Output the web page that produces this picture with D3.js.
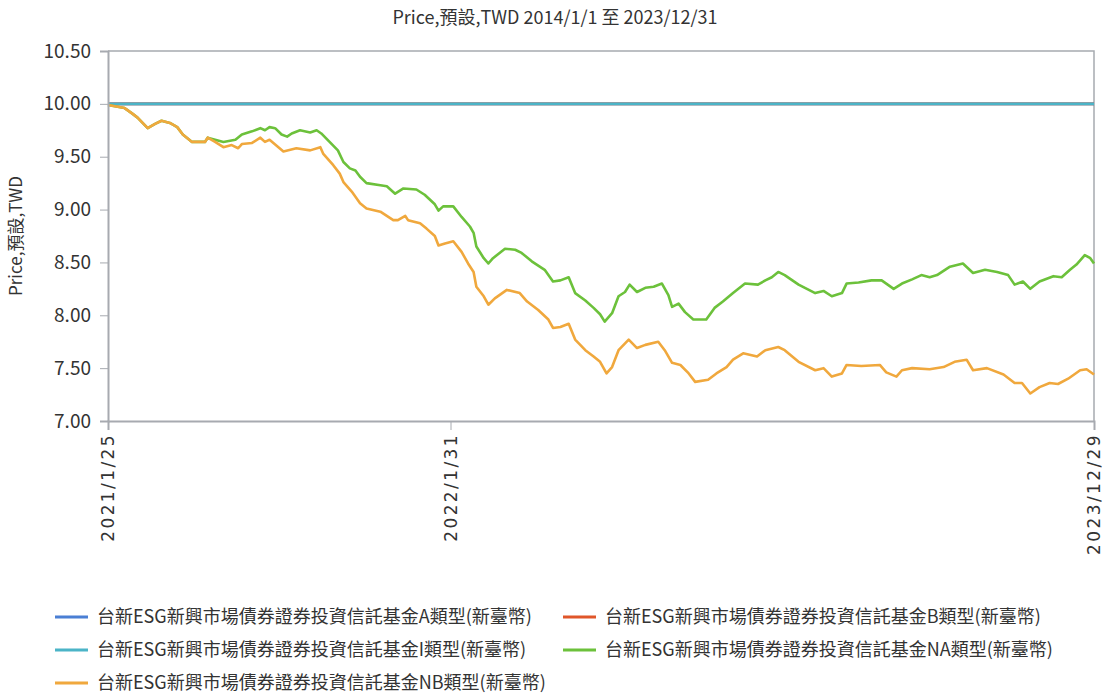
<!DOCTYPE html>
<html>
<head>
<meta charset="utf-8">
<script src="https://cdn.jsdelivr.net/npm/d3@7"></script>
<style>
  body { margin: 0; background: #fff; }
  text { font-family: "Noto Sans CJK TC", "Noto Sans", sans-serif; fill: #333; }
</style>
</head>
<body>
<div id="chart"></div>
<script>
// fund share classes, in drawing order
const seriesNames = [
  "台新ESG新興市場債券證券投資信託基金A類型(新臺幣)",
  "台新ESG新興市場債券證券投資信託基金B類型(新臺幣)",
  "台新ESG新興市場債券證券投資信託基金I類型(新臺幣)",
  "台新ESG新興市場債券證券投資信託基金NA類型(新臺幣)",
  "台新ESG新興市場債券證券投資信託基金NB類型(新臺幣)"
];
const seriesColors = ["#4a7fd4", "#e0562a", "#4bb4c7", "#6cc13b", "#f0a83d"];

// A, B and I stay flat at 10.00
const flatDates = ["2021-01-25", "2023-12-29"];
const aValues = [10.00, 10.00];
const bValues = [10.00, 10.00];
const iValues = [10.00, 10.00];

const naDates = ["2021-01-25","2021-02-12","2021-02-20","2021-02-26","2021-03-09","2021-03-17","2021-03-24","2021-04-02","2021-04-10","2021-04-16","2021-04-26","2021-05-10","2021-05-13",
  "2021-05-30","2021-06-12","2021-06-19","2021-06-30","2021-07-09","2021-07-14","2021-07-19","2021-07-25","2021-08-01","2021-08-07","2021-08-12","2021-08-21","2021-09-01","2021-09-08","2021-09-13","2021-09-22","2021-10-01","2021-10-07","2021-10-14","2021-10-20","2021-10-25","2021-11-01","2021-11-16","2021-11-23","2021-12-02","2021-12-11","2021-12-25",
  "2022-01-03","2022-01-14","2022-01-18","2022-01-23","2022-02-03","2022-02-12","2022-02-21","2022-02-25","2022-02-28","2022-03-08","2022-03-13","2022-03-18","2022-03-31","2022-04-11","2022-04-18","2022-04-29","2022-05-13","2022-05-22","2022-05-30","2022-06-08","2022-06-15","2022-06-26","2022-07-05","2022-07-12","2022-07-17","2022-07-25","2022-08-01","2022-08-08","2022-08-13","2022-08-21","2022-08-30","2022-09-08","2022-09-17","2022-09-24","2022-09-28","2022-10-05","2022-10-12","2022-10-21","2022-11-04","2022-11-13","2022-11-22","2022-12-03","2022-12-16","2022-12-30",
  "2023-01-07","2023-01-14","2023-01-21","2023-01-28","2023-02-12","2023-03-02","2023-03-11","2023-03-20","2023-03-31","2023-04-05","2023-04-18","2023-05-02","2023-05-13","2023-05-26","2023-06-04","2023-06-15","2023-06-25","2023-07-04","2023-07-12","2023-07-26","2023-08-09","2023-08-20","2023-09-02","2023-09-15","2023-09-27","2023-10-04","2023-10-13","2023-10-21","2023-10-31","2023-11-15","2023-11-24","2023-12-03","2023-12-10","2023-12-19","2023-12-25","2023-12-29"];
const naValues = [9.99,9.96,9.91,9.87,9.77,9.81,9.84,9.82,9.78,9.71,9.64,9.64,9.68,
  9.64,9.66,9.71,9.74,9.77,9.75,9.78,9.77,9.71,9.69,9.72,9.75,9.73,9.75,9.72,9.64,9.56,9.45,9.39,9.37,9.31,9.25,9.23,9.22,9.15,9.20,9.19,
  9.14,9.05,8.99,9.03,9.03,8.93,8.84,8.78,8.65,8.54,8.49,8.54,8.63,8.62,8.59,8.51,8.43,8.32,8.33,8.36,8.21,8.14,8.07,8.01,7.94,8.02,8.18,8.22,8.29,8.22,8.26,8.27,8.30,8.19,8.08,8.11,8.03,7.96,7.96,8.07,8.13,8.21,8.30,8.29,
  8.33,8.36,8.41,8.38,8.29,8.21,8.23,8.18,8.21,8.30,8.31,8.33,8.33,8.25,8.30,8.34,8.38,8.36,8.38,8.46,8.49,8.40,8.43,8.41,8.38,8.29,8.32,8.25,8.32,8.37,8.36,8.43,8.48,8.57,8.54,8.49];

const nbDates = ["2021-01-25","2021-02-12","2021-02-20","2021-02-26","2021-03-09","2021-03-17","2021-03-24","2021-04-02","2021-04-10","2021-04-16","2021-04-26","2021-05-10","2021-05-13","2021-05-21","2021-05-30","2021-06-08","2021-06-15","2021-06-19","2021-06-30","2021-07-09","2021-07-14","2021-07-19","2021-08-03","2021-08-17","2021-09-01","2021-09-12","2021-09-15","2021-09-26","2021-10-03","2021-10-07","2021-10-16","2021-10-25","2021-11-01","2021-11-16","2021-11-30","2021-12-05","2021-12-13","2021-12-16","2021-12-29",
  "2022-01-05","2022-01-14","2022-01-18","2022-01-25","2022-02-03","2022-02-12","2022-02-19","2022-02-25","2022-02-28","2022-03-08","2022-03-13","2022-03-20","2022-04-02","2022-04-16","2022-04-24","2022-05-06","2022-05-17","2022-05-22","2022-05-30","2022-06-08","2022-06-15","2022-06-26","2022-07-05","2022-07-12","2022-07-19","2022-07-25","2022-08-01","2022-08-12","2022-08-21","2022-08-30","2022-09-13","2022-09-20","2022-09-28","2022-10-07","2022-10-16","2022-10-23","2022-11-06","2022-11-15","2022-11-26","2022-12-03","2022-12-14","2022-12-29",
  "2023-01-07","2023-01-21","2023-01-28","2023-02-12","2023-03-02","2023-03-11","2023-03-20","2023-03-31","2023-04-05","2023-04-21","2023-05-11","2023-05-18","2023-05-29","2023-06-04","2023-06-15","2023-07-04","2023-07-19","2023-07-31","2023-08-13","2023-08-20","2023-09-04","2023-09-22","2023-10-04","2023-10-12","2023-10-21","2023-10-31","2023-11-11","2023-11-20","2023-12-01","2023-12-14","2023-12-21","2023-12-29"];
const nbValues = [9.99,9.96,9.91,9.87,9.77,9.81,9.84,9.82,9.78,9.71,9.64,9.64,9.68,9.64,9.59,9.61,9.58,9.62,9.63,9.68,9.64,9.66,9.55,9.58,9.56,9.59,9.53,9.42,9.34,9.26,9.17,9.06,9.01,8.98,8.90,8.90,8.94,8.90,8.87,
  8.82,8.75,8.66,8.68,8.70,8.60,8.49,8.41,8.27,8.18,8.10,8.16,8.24,8.21,8.13,8.05,7.96,7.88,7.89,7.92,7.77,7.67,7.61,7.56,7.45,7.51,7.67,7.77,7.69,7.72,7.75,7.67,7.55,7.53,7.45,7.37,7.39,7.45,7.51,7.58,7.64,7.61,
  7.67,7.70,7.67,7.56,7.48,7.50,7.42,7.45,7.53,7.52,7.53,7.46,7.42,7.48,7.50,7.49,7.51,7.56,7.58,7.48,7.50,7.44,7.36,7.36,7.26,7.32,7.36,7.35,7.40,7.48,7.49,7.44];

const yTicks = [7.00, 7.50, 8.00, 8.50, 9.00, 9.50, 10.00, 10.50];
const xTicks = ["2021-01-25", "2022-01-31", "2023-12-29"];

const chartTitle = "Price,預設,TWD 2014/1/1 至 2023/12/31";
const yTitle = "Price,預設,TWD";

const width = 1110, height = 695;
const margin = {top: 51, right: 16, bottom: 274, left: 108};
const parse = d3.timeParse("%Y-%m-%d");

const series = [
  {dates: flatDates, values: aValues},
  {dates: flatDates, values: bValues},
  {dates: flatDates, values: iValues},
  {dates: naDates, values: naValues},
  {dates: nbDates, values: nbValues}
].map((s, i) => ({
  name: seriesNames[i],
  color: seriesColors[i],
  points: d3.zip(s.dates, s.values).map(([d, v]) => ({date: parse(d), value: v}))
}));

const svg = d3.select("#chart").append("svg")
  .attr("width", width)
  .attr("height", height);

const x = d3.scaleTime()
  .domain([parse(xTicks[0]), parse(xTicks[2])])
  .range([margin.left, width - margin.right]);
const y = d3.scaleLinear()
  .domain([7, 10.5])
  .range([height - margin.bottom, margin.top]);

svg.append("text")
  .attr("x", width / 2).attr("y", 24)
  .attr("text-anchor", "middle")
  .style("font-size", "18px")
  .text(chartTitle);

// frame on top and right
svg.append("path")
  .attr("d", `M${x.range()[0]},${y(10.5)}H${x.range()[1]}V${y(7)}`)
  .attr("fill", "none")
  .attr("stroke", "#a7aab0")
  .attr("stroke-width", 1.5);

const line = d3.line()
  .x(d => x(d.date))
  .y(d => y(d.value));

svg.append("g").selectAll("path")
  .data(series)
  .join("path")
  .attr("d", d => line(d.points))
  .attr("fill", "none")
  .attr("stroke", d => d.color)
  .attr("stroke-width", 2.6)
  .attr("stroke-linejoin", "round");

const yAxis = svg.append("g")
  .attr("transform", `translate(${margin.left},0)`)
  .call(d3.axisLeft(y).tickValues(yTicks).tickSize(8).tickPadding(9).tickFormat(d3.format(".2f")));
yAxis.selectAll("text").style("font-size", "19px");

const fmt = d3.timeFormat("%Y/%-m/%-d");
const xAxis = svg.append("g")
  .attr("transform", `translate(0,${height - margin.bottom})`)
  .call(d3.axisBottom(x).tickValues(xTicks.map(parse)).tickSize(9).tickFormat(fmt));
xAxis.selectAll("text")
  .attr("transform", "rotate(-90)")
  .attr("x", -12).attr("y", 0).attr("dy", "0.35em")
  .attr("text-anchor", "end")
  .style("font-family", "'DejaVu Sans', sans-serif")
  .style("font-size", "17px")
  .style("letter-spacing", "2.4px");

svg.selectAll(".domain, .tick line").attr("stroke", "#a7aab0");
svg.selectAll(".domain").attr("stroke-width", 2);

svg.append("text")
  .attr("transform", `translate(22,${(y(7) + y(10.5)) / 2}) rotate(-90)`)
  .attr("text-anchor", "middle")
  .style("font-size", "17px")
  .text(yTitle);

// legend, two columns
const legend = svg.append("g").selectAll("g")
  .data(series)
  .join("g")
  .attr("transform", (d, i) => `translate(${i % 2 ? 563 : 55},${617 + Math.floor(i / 2) * 33})`);
legend.append("line")
  .attr("x1", 0).attr("x2", 33)
  .attr("stroke", d => d.color)
  .attr("stroke-width", 3);
legend.append("text")
  .attr("x", 42).attr("dy", "0.35em")
  .style("font-size", "18px")
  .text(d => d.name);
</script>
</body>
</html>
